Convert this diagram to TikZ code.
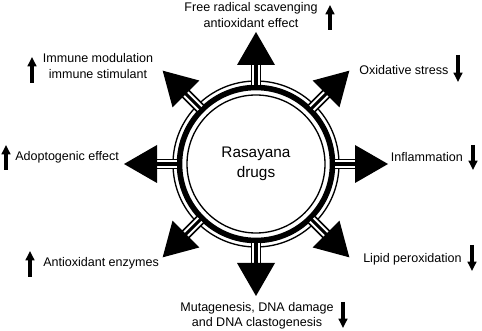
\documentclass[tikz,border=0pt]{standalone}
\usepackage{fontspec}
\setmainfont{Liberation Sans}
\usepackage{tikz}
\usetikzlibrary{arrows.meta}

\begin{document}
\begin{tikzpicture}[
    x = 0.75pt, y = -0.75pt,
    lbl/.style = {inner sep = 0pt, align = center, font=\fontsize{9.4}{11.5}\selectfont},
    hub/.style = {inner sep = 0pt, align = center, font=\fontsize{11.5}{15}\selectfont},
    upar/.style = {line width = 2.3pt, -{Triangle[width=6.5pt, length=7pt]}},
    ring/.style = {line width = 1pt}
    ]
    \useasboundingbox (0,0) rectangle (482,331);
    \coordinate (c) at (256,164);
    % rings
    \draw[ring] (c) circle[radius=83];
    \draw[line width=4.2pt] (c) circle[radius=76.5];
    \draw[ring] (c) circle[radius=69];
    % radiating arrows
    \foreach \a in {0,45,...,315} {
        \begin{scope}[shift={(c)}, rotate=\a]
            \draw[line width=8.2pt] (79,0) -- (100,0);
            \draw[white, line width=1.5pt] (79,-2.7) -- (99.5,-2.7);
            \draw[white, line width=1.5pt] (79,2.7) -- (99.5,2.7);
            \fill (99,-19) -- (132,0) -- (99,19) -- cycle;
        \end{scope}
    }
    \node[hub] (drug) at (c) {Rasayana\\drugs};
    % labels
    \node[lbl] (frs) at (251,15) {Free radical scavenging\\antioxidant effect};
    \node[lbl] (imm) at (98,66) {Immune modulation\\immune stimulant};
    \node[lbl, anchor=west] (oxs) at (359,70) {Oxidative stress};
    \node[lbl, anchor=west] (ada) at (15,157) {Adoptogenic effect};
    \node[lbl, anchor=east] (inf) at (463,157) {Inflammation};
    \node[lbl, anchor=west] (aoe) at (43,263) {Antioxidant enzymes};
    \node[lbl, anchor=west] (lip) at (363,259) {Lipid peroxidation};
    \node[lbl] (mut) at (257,316) {Mutagenesis, DNA damage\\and DNA clastogenesis};
    % up and down marks
    \draw[upar] (330,30) -- (330,5);
    \draw[upar] (32,83) -- (32,57);
    \draw[upar] (458,55) -- (458,82);
    \draw[upar] (6,170) -- (6,145);
    \draw[upar] (473,145) -- (473,170);
    \draw[upar] (30,277) -- (30,251);
    \draw[upar] (472,245) -- (472,271);
    \draw[upar] (343,302) -- (343,328);
\end{tikzpicture}
\end{document}
